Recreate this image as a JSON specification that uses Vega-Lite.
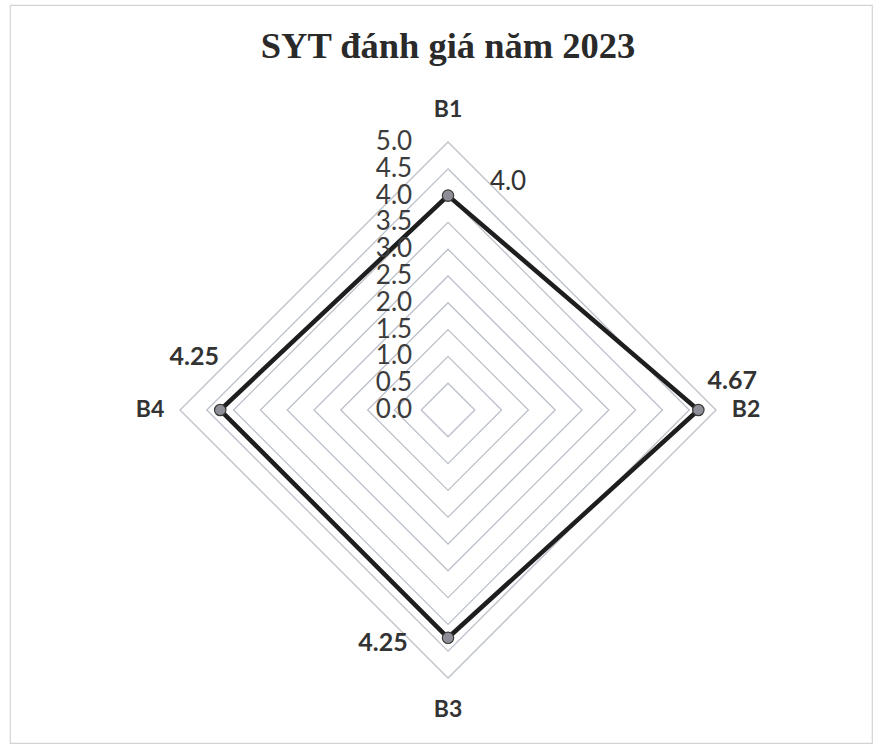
{
  "$schema": "https://vega.github.io/schema/vega-lite/v6.json",
  "width": 862,
  "height": 738,
  "autosize": {"type": "none"},
  "padding": {"left": 10, "top": 5, "right": 1, "bottom": 1},
  "background": "white",
  "config": {"view": {"stroke": "#d4d4d4", "strokeWidth": 1.2}},
  "datasets": {
    "scores": [
      {"cat": "B1", "idx": 0, "score": 4.0, "label": "4.0"},
      {"cat": "B2", "idx": 1, "score": 4.67, "label": "4.67"},
      {"cat": "B3", "idx": 2, "score": 4.25, "label": "4.25"},
      {"cat": "B4", "idx": 3, "score": 4.25, "label": "4.25"}
    ],
    "levels": [
      {"level": 0}, {"level": 0.5}, {"level": 1}, {"level": 1.5}, {"level": 2}, {"level": 2.5},
      {"level": 3}, {"level": 3.5}, {"level": 4}, {"level": 4.5}, {"level": 5}
    ]
  },
  "encoding": {
    "x": {"field": "px", "type": "quantitative", "scale": {"domain": [-8.172, 7.91], "nice": false, "zero": false}, "axis": null},
    "y": {"field": "py", "type": "quantitative", "scale": {"domain": [-6.213, 7.556], "nice": false, "zero": false}, "axis": null}
  },
  "layer": [
    {
      "data": {"name": "levels"},
      "transform": [
        {"filter": "datum.level > 0"},
        {"calculate": "[0,1,2,3]", "as": "k"},
        {"flatten": ["k"]},
        {"calculate": "datum.level * sin(datum.k * PI / 2)", "as": "px"},
        {"calculate": "datum.level * cos(datum.k * PI / 2)", "as": "py"}
      ],
      "mark": {"type": "line", "interpolate": "linear-closed", "stroke": "#bcc0ca", "strokeWidth": 1.3},
      "encoding": {
        "detail": {"field": "level", "type": "nominal"},
        "order": {"field": "k", "type": "quantitative"}
      }
    },
    {
      "data": {"name": "scores"},
      "transform": [
        {"calculate": "datum.score * sin(datum.idx * PI / 2)", "as": "px"},
        {"calculate": "datum.score * cos(datum.idx * PI / 2)", "as": "py"}
      ],
      "mark": {"type": "line", "interpolate": "linear-closed", "stroke": "#1e1e1e", "strokeWidth": 4.5},
      "encoding": {"order": {"field": "idx", "type": "quantitative"}}
    },
    {
      "data": {"name": "scores"},
      "transform": [
        {"calculate": "datum.score * sin(datum.idx * PI / 2)", "as": "px"},
        {"calculate": "datum.score * cos(datum.idx * PI / 2)", "as": "py"}
      ],
      "mark": {"type": "point", "shape": "circle", "filled": true, "fill": "#8e8e98", "stroke": "#3a3a3a", "strokeWidth": 1.2, "size": 130, "opacity": 1}
    },
    {
      "data": {"name": "levels"},
      "transform": [
        {"calculate": "-0.67", "as": "px"},
        {"calculate": "datum.level", "as": "py"}
      ],
      "mark": {"type": "text", "align": "right", "baseline": "middle", "font": "Lato", "fontSize": 26, "fill": "#3c3c3c"},
      "encoding": {
        "text": {"field": "level", "type": "quantitative", "format": ".1f"}
      }
    },
    {
      "data": {"name": "scores"},
      "transform": [
        {"calculate": "5.56 * sin(datum.idx * PI / 2)", "as": "px"},
        {"calculate": "5.6 * cos(datum.idx * PI / 2)", "as": "py"}
      ],
      "mark": {"type": "text", "align": "center", "baseline": "middle", "font": "Lato", "fontWeight": "bold", "fontSize": 23, "fill": "#333333"},
      "encoding": {"text": {"field": "cat", "type": "nominal"}}
    },
    {
      "data": {"name": "scores"},
      "transform": [
        {"filter": "datum.cat === 'B1'"},
        {"calculate": "datum.score * sin(datum.idx * PI / 2)", "as": "px"},
        {"calculate": "datum.score * cos(datum.idx * PI / 2)", "as": "py"}
      ],
      "mark": {"type": "text", "align": "center", "baseline": "middle", "font": "Lato", "fontSize": 26, "fill": "#333333", "dx": 60, "dy": -14},
      "encoding": {"text": {"field": "label", "type": "nominal"}}
    },
    {
      "data": {"name": "scores"},
      "transform": [
        {"filter": "datum.cat === 'B2'"},
        {"calculate": "datum.score * sin(datum.idx * PI / 2)", "as": "px"},
        {"calculate": "datum.score * cos(datum.idx * PI / 2)", "as": "py"}
      ],
      "mark": {"type": "text", "align": "center", "baseline": "middle", "font": "Lato", "fontWeight": "bold", "fontSize": 25, "fill": "#333333", "dx": 34, "dy": -29},
      "encoding": {"text": {"field": "label", "type": "nominal"}}
    },
    {
      "data": {"name": "scores"},
      "transform": [
        {"filter": "datum.cat === 'B3'"},
        {"calculate": "datum.score * sin(datum.idx * PI / 2)", "as": "px"},
        {"calculate": "datum.score * cos(datum.idx * PI / 2)", "as": "py"}
      ],
      "mark": {"type": "text", "align": "center", "baseline": "middle", "font": "Lato", "fontWeight": "bold", "fontSize": 25, "fill": "#333333", "dx": -65, "dy": 5},
      "encoding": {"text": {"field": "label", "type": "nominal"}}
    },
    {
      "data": {"name": "scores"},
      "transform": [
        {"filter": "datum.cat === 'B4'"},
        {"calculate": "datum.score * sin(datum.idx * PI / 2)", "as": "px"},
        {"calculate": "datum.score * cos(datum.idx * PI / 2)", "as": "py"}
      ],
      "mark": {"type": "text", "align": "center", "baseline": "middle", "font": "Lato", "fontWeight": "bold", "fontSize": 25, "fill": "#333333", "dx": -26, "dy": -53},
      "encoding": {"text": {"field": "label", "type": "nominal"}}
    },
    {
      "data": {"values": [{"title": "SYT đánh giá năm 2023"}]},
      "transform": [
        {"calculate": "0", "as": "px"},
        {"calculate": "6.57", "as": "py"}
      ],
      "mark": {"type": "text", "align": "center", "baseline": "alphabetic", "font": "Liberation Serif", "fontWeight": "bold", "fontSize": 36.5, "fill": "#2a2a2a"},
      "encoding": {
        "text": {"field": "title", "type": "nominal"}
      }
    }
  ]
}
